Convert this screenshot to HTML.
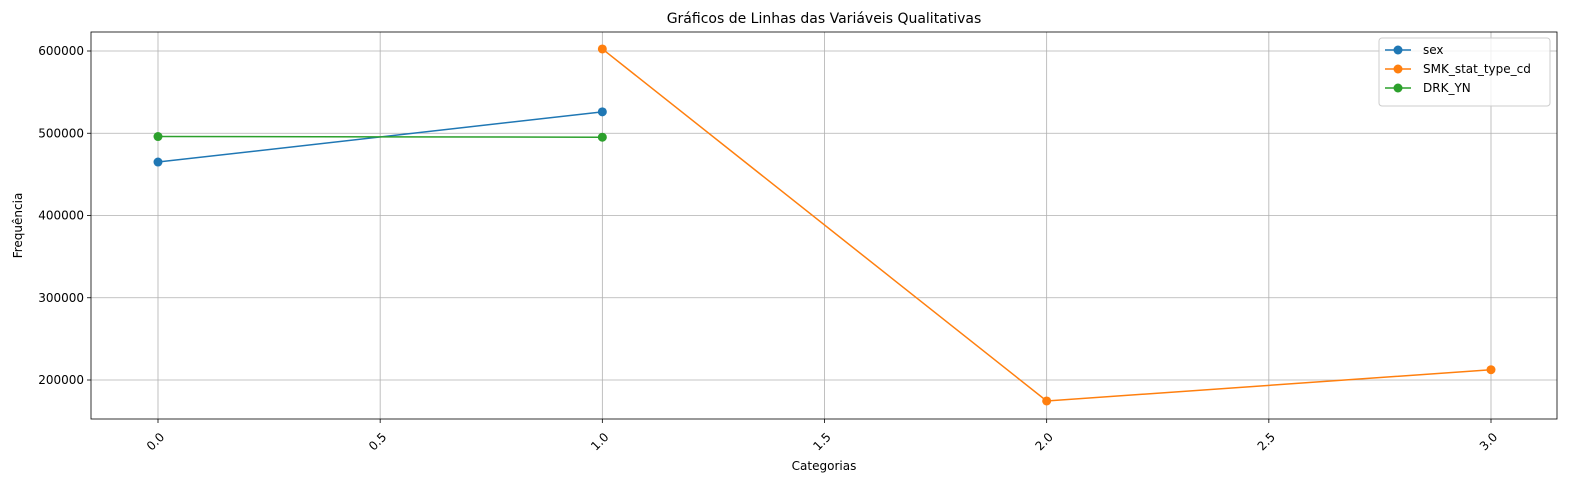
<!DOCTYPE html>
<html><head><meta charset="utf-8"><style>
body{margin:0;background:#fff;font-family:"Liberation Sans","DejaVu Sans",sans-serif;}
svg text{font-family:"DejaVu Sans","Liberation Sans",sans-serif;}
</style></head><body>
<svg id="chart" width="1590" height="490" xmlns="http://www.w3.org/2000/svg"></svg>
<script>
const xTicks=[0.0,0.5,1.0,1.5,2.0,2.5,3.0];
const xTickLabels=["0.0","0.5","1.0","1.5","2.0","2.5","3.0"];
const yTicks=[200000,300000,400000,500000,600000];
const yTickLabels=["200000","300000","400000","500000","600000"];
const seriesNames=["sex","SMK_stat_type_cd","DRK_YN"];
const seriesColors=["#1f77b4","#ff7f0e","#2ca02c"];
const sexX=[0,1];
const sexY=[465000,526000];
const smkX=[1,2,3];
const smkY=[602500,174500,212500];
const drkX=[0,1];
const drkY=[496000,495200];

const L=91,R=1557,T=32,B=419;
const xs=v=>158+(v-0)*(1491-158)/3;
const ys=v=>51+(600000-v)*(380-51)/400000;
const svg=document.getElementById('chart');
const NS="http://www.w3.org/2000/svg";
function mk(tag,attrs,parent){const e=document.createElementNS(NS,tag);for(const k in attrs)e.setAttribute(k,attrs[k]);(parent||svg).appendChild(e);return e;}

// grid
xTicks.forEach((t,i)=>{
  const g=mk('line',{x1:xs(t),x2:xs(t),y1:T,y2:B,stroke:'#b0b0b0','stroke-width':0.8});
  
  
  mk('line',{x1:xs(t),x2:xs(t),y1:B,y2:B+4,stroke:'#000','stroke-width':0.8});
  const tx=mk('text',{x:xs(t),y:B+10,'font-size':12,'text-anchor':'end',transform:`rotate(-45 ${xs(t)+4} ${B+10})`,dy:'0.7em'});
  tx.textContent=xTickLabels[i];
  
  
});
yTicks.forEach((t,i)=>{
  const g=mk('line',{x1:L,x2:R,y1:ys(t),y2:ys(t),stroke:'#b0b0b0','stroke-width':0.8});
  
  
  mk('line',{x1:L-4,x2:L,y1:ys(t),y2:ys(t),stroke:'#000','stroke-width':0.8});
  const tx=mk('text',{x:L-7,y:ys(t)+4,'font-size':12,'text-anchor':'end'});
  tx.textContent=yTickLabels[i];
  
  
});
const frame=mk('rect',{x:L,y:T,width:R-L,height:B-T,fill:'none',stroke:'#000','stroke-width':0.8});



const all=[[sexX,sexY],[smkX,smkY],[drkX,drkY]];
all.forEach((s,si)=>{
  const pts=s[0].map((x,i)=>xs(x)+','+ys(s[1][i])).join(' ');
  const pl=mk('polyline',{points:pts,fill:'none',stroke:seriesColors[si],'stroke-width':1.5});
  
  
  s[0].forEach((x,i)=>{
    const c=mk('circle',{cx:xs(x),cy:ys(s[1][i]),r:4.5,fill:seriesColors[si]});
    
    
  });
});

// legend
const lg=mk('g',{});


mk('rect',{x:1379,y:38,width:171,height:68,rx:3,fill:'#fff','fill-opacity':0.8,stroke:'#ccc'},lg);
seriesNames.forEach((n,i)=>{
  const y=50+i*19;
  mk('line',{x1:1385,x2:1411,y1:y,y2:y,stroke:seriesColors[i],'stroke-width':1.5},lg);
  mk('circle',{cx:1398,cy:y,r:4.5,fill:seriesColors[i]},lg);
  const t=mk('text',{x:1423,y:y+4,'font-size':12},lg);
  t.textContent=n;
  
  
});

const title=mk('text',{x:(L+R)/2,y:23,'font-size':14,'text-anchor':'middle'});
title.textContent="Gráficos de Linhas das Variáveis Qualitativas";


const xl=mk('text',{x:(L+R)/2,y:470,'font-size':12,'text-anchor':'middle'});
xl.textContent="Categorias";


const yl=mk('text',{x:22,y:(T+B)/2,'font-size':12,'text-anchor':'middle',transform:`rotate(-90 22 ${(T+B)/2})`});
yl.textContent="Frequência";


</script>
</body></html>
